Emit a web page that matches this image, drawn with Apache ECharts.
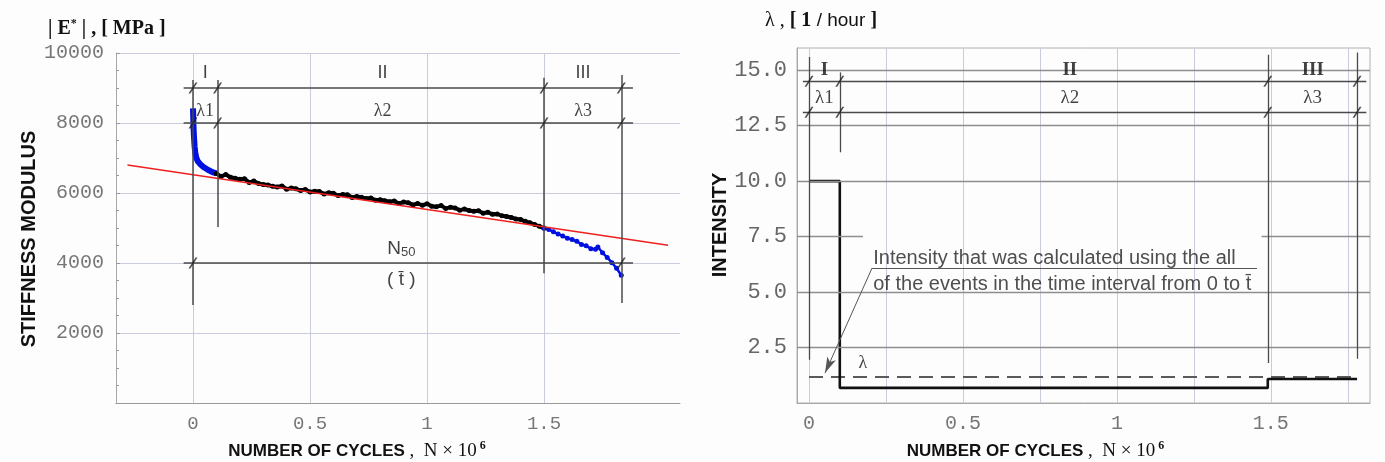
<!DOCTYPE html>
<html><head><meta charset="utf-8">
<script src="https://cdn.jsdelivr.net/npm/echarts@6/dist/echarts.min.js"></script>
<style>html,body{margin:0;padding:0;background:#fdfdfd}#c{width:1385px;height:462px}</style>
</head><body><div id="c"></div>
<script>
// ---------- LEFT CHART DATA (stiffness modulus, MPa vs N x 10^6) ----------
const phase1Blue = [[0,8420],[0.001,8200],[0.002,7950],[0.003,7760],[0.005,7520],[0.007,7320],[0.01,7140],[0.014,7010],[0.02,6910],[0.03,6830],[0.04,6770],[0.05,6720],[0.06,6680],[0.07,6640],[0.08,6610],[0.09,6580],[0.1,6560]];
const phase2Black = [[0.10,6560],[0.12,6470],[0.14,6530],[0.16,6450],[0.18,6420],[0.20,6390],[0.22,6410],[0.24,6300],[0.26,6340],[0.28,6270],[0.30,6240],[0.32,6230],[0.34,6190],[0.36,6170],[0.38,6200],[0.40,6110],[0.42,6140],[0.44,6120],[0.46,6070],[0.48,6100],[0.50,6030],[0.52,6050],[0.54,6040],[0.56,5970],[0.58,6010],[0.60,5990],[0.62,5930],[0.64,5960],[0.66,5950],[0.68,5870],[0.70,5900],[0.72,5880],[0.74,5840],[0.76,5860],[0.78,5790],[0.80,5810],[0.82,5780],[0.84,5750],[0.86,5770],[0.88,5700],[0.90,5740],[0.92,5720],[0.94,5660],[0.96,5700],[0.98,5650],[1.00,5690],[1.02,5620],[1.04,5610],[1.06,5640],[1.08,5560],[1.10,5590],[1.12,5570],[1.14,5510],[1.16,5540],[1.18,5500],[1.20,5480],[1.22,5490],[1.24,5420],[1.26,5450],[1.28,5390],[1.30,5400],[1.32,5350],[1.34,5330],[1.36,5300],[1.38,5260],[1.40,5240],[1.42,5190],[1.44,5150],[1.46,5100],[1.48,5050],[1.50,4990]];
const phase3Blue = [[1.50,5000],[1.52,4960],[1.54,4890],[1.56,4830],[1.58,4770],[1.60,4710],[1.62,4670],[1.64,4620],[1.66,4530],[1.68,4490],[1.70,4410],[1.72,4390],[1.73,4460],[1.75,4290],[1.77,4160],[1.79,4010],[1.81,3850],[1.83,3650]];
const trendRed = [[-0.28,6800],[2.03,4510]];
const leftPhaseBounds = [0, 0.105, 1.5, 1.83];
const leftXLabels = [0, 0.5, 1, 1.5];
const leftYRange = [0, 10000];

// ---------- RIGHT CHART DATA (intensity, 1/hour vs N x 10^6) ----------
const intensityStep = [[0,10],[0.1,10],[0.1,0.68],[1.49,0.68],[1.49,1.08],[1.78,1.08]];
const meanIntensity = [[0,1.17],[1.78,1.17]];
const rightPhaseBounds = [0, 0.1, 1.49, 1.78];
const rightXLabels = [0, 0.5, 1, 1.5];
const rightXGrid = [0, 0.25, 0.5, 0.75, 1, 1.25, 1.5, 1.75];
const rightYGrid = [2.5, 5, 10, 12.5, 15];
const rightYRange = [0, 16];

const MONO = "'Liberation Mono','DejaVu Sans Mono',monospace";
const SERIF = "'Liberation Serif','DejaVu Serif',serif";
const SANS = "'Liberation Sans',Arial,sans-serif";
const slash = 'path://M0,10 L7.5,0 L9.5,0 L2,10 Z';
const DIM = '#4a4a4a';

function seg(x1,y1,x2,y2){ return [{coord:[x1,y1]},{coord:[x2,y2]}]; }
function txt(x,y,label,extra){ return Object.assign({value:[x,y], label:{formatter:label}}, extra||{}); }

function xName(padRight){
  return {
    name: '{a|NUMBER OF CYCLES}{b| ,  N × 10}{c| 6}',
    nameLocation: 'middle', nameGap: 37,
    nameTextStyle: { padding: [0, padRight, 0, 0], rich: {
      a: {fontFamily: SANS, fontWeight: 'bold', fontSize: 17, color: '#111'},
      b: {fontFamily: SERIF, fontSize: 19, color: '#111'},
      c: {fontFamily: SERIF, fontSize: 12, fontWeight: 'bold', color: '#111', padding: [0,0,11,0]}
    }}
  };
}

const lp = leftPhaseBounds, rp = rightPhaseBounds;

const option = {
  backgroundColor: '#fdfdfd',
  animation: false,
  grid: [
    {left: 116, top: 53, width: 564, height: 350, show: false, outerBoundsMode: 'none', containLabel: false},
    {left: 797, top: 48, width: 573, height: 355, show: true, borderColor: '#b0b0b0', borderWidth: 1, backgroundColor: 'transparent', outerBoundsMode: 'none', containLabel: false}
  ],
  xAxis: [
    Object.assign({
      gridIndex: 0, type: 'value', min: -0.329, max: 2.081,
      axisLine: {show: true, onZero: false, lineStyle: {color: '#9a9a9a'}},
      axisTick: {show: false, customValues: leftXLabels},
      axisLabel: {customValues: leftXLabels, fontFamily: MONO, fontSize: 19, color: '#777', margin: 11},
      splitLine: {show: true, lineStyle: {color: '#c9ccdc', width: 1}}
    }, xName(82)),
    Object.assign({
      gridIndex: 1, type: 'value', min: -0.039, max: 1.822,
      axisLine: {show: true, onZero: false, lineStyle: {color: '#a8a8a8'}},
      axisTick: {show: false, customValues: rightXGrid},
      axisLabel: {customValues: rightXLabels, fontFamily: MONO, fontSize: 20, color: '#777', margin: 11},
      splitLine: {show: true, lineStyle: {color: '#c9ccdc', width: 1}}
    }, xName(96))
  ],
  yAxis: [
    {
      gridIndex: 0, type: 'value', min: leftYRange[0], max: leftYRange[1], interval: 2000,
      axisLine: {show: true, onZero: false, lineStyle: {color: '#a8a8a8'}},
      axisTick: {show: true, inside: true, length: 4, lineStyle: {color: '#999'}},
      minorTick: {show: true, splitNumber: 4, length: 3, lineStyle: {color: '#999'}},
      axisLabel: {showMinLabel: false, fontFamily: MONO, fontSize: 20, color: '#777', margin: 12,
        formatter: v => String(v)},
      splitLine: {show: true, lineStyle: {color: '#c9ccdc', width: 1}}
    },
    {
      gridIndex: 1, type: 'value', min: rightYRange[0], max: rightYRange[1], interval: 2.5,
      axisLine: {show: true, onZero: false, lineStyle: {color: '#a8a8a8'}},
      axisTick: {show: false},
      axisLabel: {showMinLabel: false, showMaxLabel: false, fontFamily: MONO, fontSize: 22, color: '#666', margin: 10,
        formatter: v => v.toFixed(1)},
      splitLine: {show: false}
    }
  ],
  series: [
    // ---- left: dimension lines
    {type: 'line', xAxisIndex: 0, yAxisIndex: 0, data: [], silent: true,
      markLine: {silent: true, symbol: ['none','none'], label: {show: false}, animation: false,
        lineStyle: {color: DIM, width: 1.5, type: 'solid'},
        data: [
          seg(-0.04, 9000, 1.88, 9000), seg(-0.04, 8000, 1.88, 8000), seg(-0.04, 4000, 1.88, 4000),
          seg(lp[0], 9230, lp[0], 2800), seg(lp[1], 9230, lp[1], 5030),
          seg(lp[2], 9290, lp[2], 3710), seg(lp[3], 9370, lp[3], 2860)
        ]}},
    // ---- left: data
    {type: 'line', xAxisIndex: 0, yAxisIndex: 0, data: phase1Blue, showSymbol: false, z: 3,
      lineStyle: {color: '#0010e0', width: 6}},
    {type: 'line', xAxisIndex: 0, yAxisIndex: 0, data: phase2Black, symbol: 'circle', symbolSize: 5, z: 3,
      itemStyle: {color: '#000'}, lineStyle: {color: '#000', width: 4}},
    {type: 'line', xAxisIndex: 0, yAxisIndex: 0, data: phase3Blue, symbol: 'circle', symbolSize: 5, z: 3,
      itemStyle: {color: '#0010e0'}, lineStyle: {color: '#0010e0', width: 2.5}},
    {type: 'line', xAxisIndex: 0, yAxisIndex: 0, data: trendRed, showSymbol: false, z: 4,
      lineStyle: {color: '#ee2020', width: 1.5}},
    // ---- left: slashes
    {type: 'scatter', xAxisIndex: 0, yAxisIndex: 0, symbol: slash, symbolSize: [9, 11], z: 5,
      itemStyle: {color: '#222'},
      data: [[lp[0],9000],[lp[1],9000],[lp[2],9000],[lp[3],9000],[lp[0],8000],[lp[1],8000],[lp[2],8000],[lp[3],8000],[lp[0],4000],[lp[3],4000]]},
    // ---- left: texts
    {type: 'scatter', xAxisIndex: 0, yAxisIndex: 0, symbolSize: 1, z: 6, itemStyle: {color: 'rgba(0,0,0,0)'},
      label: {show: true, position: 'inside', fontFamily: SERIF, fontSize: 18, color: '#111',
        rich: {n: {fontFamily: SANS, fontSize: 19, color: '#111'}, s: {fontFamily: SANS, fontSize: 13, color: '#111', padding: [8,0,0,0]},
               t: {fontFamily: SANS, fontSize: 19, color: '#111'}}},
      data: [
        txt(0.052, 9430, 'I', {label: {formatter: 'I', fontFamily: SANS}}),
        txt(0.81, 9430, 'II', {label: {formatter: 'II', fontFamily: SANS}}),
        txt(1.667, 9430, 'III', {label: {formatter: 'III', fontFamily: SANS}}),
        txt(0.052, 8330, 'λ1'), txt(0.81, 8330, 'λ2'), txt(1.667, 8330, 'λ3'),
        txt(0.89, 4420, '{n|N}{s|50}'), txt(0.89, 3520, '{t|( t\u0304 )}')
      ]},

    // ---- right: horizontal grid + dimension lines
    {type: 'line', xAxisIndex: 1, yAxisIndex: 1, data: [], silent: true,
      markLine: {silent: true, symbol: ['none','none'], label: {show: false}, animation: false,
        lineStyle: {color: '#8e8e8e', width: 1.3, type: 'solid'},
        data: rightYGrid.map(v => seg(-0.039, v, 1.822, v)).concat([seg(-0.039, 7.5, 0.175, 7.5), seg(1.47, 7.5, 1.822, 7.5)])}},
    {type: 'line', xAxisIndex: 1, yAxisIndex: 1, data: [], silent: true,
      markLine: {silent: true, symbol: ['none','none'], label: {show: false}, animation: false,
        lineStyle: {color: DIM, width: 1.3, type: 'solid'},
        data: [
          seg(-0.02, 14.5, 1.81, 14.5), seg(-0.02, 13.1, 1.81, 13.1),
          seg(rp[0], 15.6, rp[0], 1.95), seg(rp[1], 14.9, rp[1], 11.3),
          seg(rp[2], 15.7, rp[2], 1.8), seg(rp[3], 15.8, rp[3], 2.0)
        ]}},
    // ---- right: data
    {type: 'line', xAxisIndex: 1, yAxisIndex: 1, data: meanIntensity, showSymbol: false, z: 3,
      lineStyle: {color: '#5a5a5a', width: 2, type: [14, 8]}},
    {type: 'line', xAxisIndex: 1, yAxisIndex: 1, data: intensityStep, showSymbol: false, z: 4,
      lineStyle: {color: '#111', width: 2.6}},
    // ---- right: annotation leader
    {type: 'line', xAxisIndex: 1, yAxisIndex: 1, data: [], silent: true, z: 5,
      markLine: {silent: true, symbol: ['none','none'], label: {show: false}, animation: false,
        lineStyle: {color: '#555', width: 1, type: 'solid'},
        data: [
          seg(1.455, 6.09, 0.205, 6.09),
          [{coord: [0.205, 6.09], symbol: 'none'}, {coord: [0.052, 1.35], symbol: 'arrow', symbolSize: [7, 16]}]
        ]}},
    // ---- right: slashes
    {type: 'scatter', xAxisIndex: 1, yAxisIndex: 1, symbol: slash, symbolSize: [9, 11], z: 5,
      itemStyle: {color: '#222'},
      data: [[rp[0],14.5],[rp[1],14.5],[rp[2],14.5],[rp[3],14.5],[rp[0],13.1],[rp[1],13.1],[rp[2],13.1],[rp[3],13.1]]},
    // ---- right: texts
    {type: 'scatter', xAxisIndex: 1, yAxisIndex: 1, symbolSize: 1, z: 6, itemStyle: {color: 'rgba(0,0,0,0)'},
      label: {show: true, position: 'inside', fontFamily: SERIF, fontSize: 19, color: '#111'},
      data: [
        txt(0.05, 15.0, 'I', {label: {formatter: 'I', fontWeight: 'bold'}}),
        txt(0.847, 15.0, 'II', {label: {formatter: 'II', fontWeight: 'bold'}}),
        txt(1.636, 15.0, 'III', {label: {formatter: 'III', fontWeight: 'bold'}}),
        txt(0.05, 13.75, 'λ1'), txt(0.847, 13.75, 'λ2'), txt(1.636, 13.75, 'λ3'),
        txt(0.175, 1.8, 'λ', {label: {formatter: 'λ', fontSize: 18}}),
        txt(0.207, 6.53, 'Intensity that was calculated using the all',
          {label: {formatter: 'Intensity that was calculated using the all', position: 'right', distance: 0, fontFamily: SANS, fontSize: 20, color: '#222'}}),
        txt(0.207, 5.33, 'of the events in the time interval from 0 to t\u0304',
          {label: {formatter: 'of the events in the time interval from 0 to t\u0304', position: 'right', distance: 0, fontFamily: SANS, fontSize: 20, color: '#222'}})
      ]}
  ],
  graphic: [
    {type: 'text', left: 48, top: 18, style: {rich: {a: {fontFamily: SERIF, fontWeight: 'bold', fontSize: 20, fill: '#111'}, s: {fontFamily: SERIF, fontWeight: 'bold', fontSize: 12, fill: '#111', padding: [0,0,9,0]}},
      text: '{a|| E}{s|*}{a| | , [ MPa ]}'}},
    {type: 'text', left: 765, top: 11, style: {rich: {a: {fontFamily: SERIF, fontSize: 20, fill: '#111'}, b: {fontFamily: SERIF, fontWeight: 'bold', fontSize: 20, fill: '#111'}, c: {fontFamily: SANS, fontSize: 19, fill: '#111'}},
      text: '{a|λ , }{b|[ 1}{c| / hour }{b|]}'}},
    {type: 'text', x: 29, y: 239, rotation: Math.PI / 2, style: {text: 'STIFFNESS MODULUS', fontFamily: SANS, fontWeight: 'bold', fontSize: 20, fill: '#111', align: 'center', verticalAlign: 'middle'}},
    {type: 'text', x: 720, y: 225, rotation: Math.PI / 2, style: {text: 'INTENSITY', fontFamily: SANS, fontWeight: 'bold', fontSize: 20, fill: '#111', align: 'center', verticalAlign: 'middle'}}
  ]
};

const chart = echarts.init(document.getElementById('c'), null, {renderer: 'canvas'});
chart.setOption(option);
</script>
</body></html>
